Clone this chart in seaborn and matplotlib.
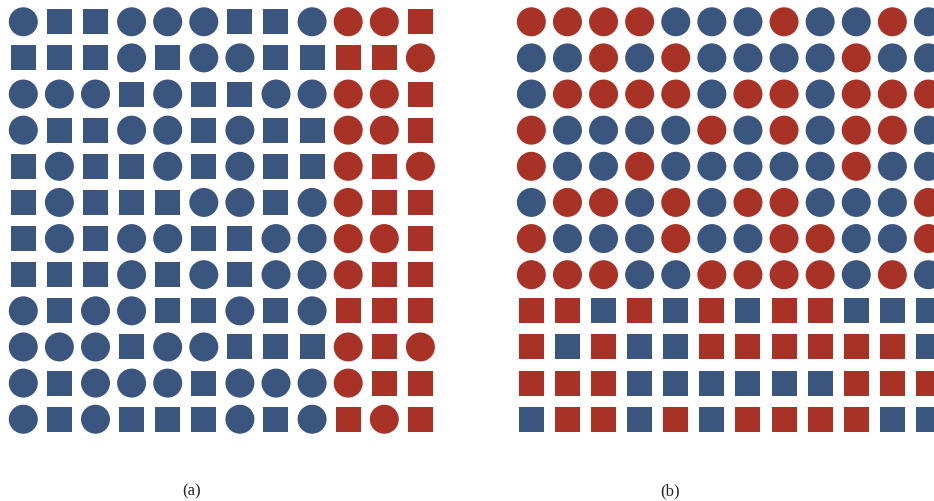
import numpy as np
import pandas as pd
import matplotlib
matplotlib.use("Agg")
import matplotlib.pyplot as plt
import seaborn as sns

sns.set_theme(style="white")
plt.rcParams["font.family"] = ["Liberation Serif", "DejaVu Serif"]

# Panel (a): shape of each cell (C = circle, S = square); columns 0-8 are group A, 9-11 group B
shapes_a = [
    "CSSCCCSSCCCS",
    "SSSCSCCSSSSC",
    "CCCSCSSCCCCS",
    "CSSCCSCSSCCS",
    "SCSSCSCSSCSC",
    "SCSSSCCSCCSS",
    "SCSCCSSCCCCS",
    "SSSCSCSCCCSS",
    "CSCCSSCSCSSS",
    "CCCSCCSSSCSC",
    "CSCCCSCCCCSS",
    "CSCSSSCSCSCS",
]
groups_a = ["B" * 9 + "R" * 3] * 12

# Panel (b): colour of each cell (R = red, B = blue); rows 0-7 circles, rows 8-11 squares
colors_b = [
    "RRRRBBBRBBRB",
    "BBRBRBBBBRBB",
    "BRRRRBRRBRRR",
    "RBBBBRBRBRRB",
    "RBBRBBBBBRBB",
    "BRRBRBRRBBBR",
    "RBBBRBBRRBBR",
    "RRRBBRRRRBRB",
    "RRBRBRBRRBBB",
    "RBRBBRRRRRRB",
    "RRRBBBBBBRRR",
    "BRRBRBRRRRBB",
]
shapes_b = ["C" * 12] * 8 + ["S" * 12] * 4

panel_labels = ["(a)", "(b)"]

palette = {"B": "#3a567e", "R": "#a93226"}
marker_size = {"C": 436, "S": 324}
marker_kind = {"C": "o", "S": "s"}


def grid_frame(shape_rows, color_rows):
    recs = []
    for r, (srow, crow) in enumerate(zip(shape_rows, color_rows)):
        for c, (s, col) in enumerate(zip(srow, crow)):
            recs.append({"col": c, "row": r, "shape": s, "color": col})
    return pd.DataFrame(recs)


W, H = 934, 501
fig = plt.figure(figsize=(W / 100, H / 100), dpi=100)

panels = [
    (grid_frame(shapes_a, groups_a), 5.25),
    (grid_frame(shapes_b, colors_b), 513.3),
]
axes_w, axes_h, axes_top = 433.2, 433.6, 3.7

for df, left_px in panels:
    ax = fig.add_axes([left_px / W, (H - axes_top - axes_h) / H, axes_w / W, axes_h / H])
    for shp in ["C", "S"]:
        sub = df[df["shape"] == shp]
        sns.scatterplot(
            data=sub, x="col", y="row", hue="color", palette=palette,
            marker=marker_kind[shp], s=marker_size[shp], linewidth=0,
            legend=False, ax=ax,
        )
    ax.set_xlim(-0.5, 11.5)
    ax.set_ylim(11.5, -0.5)
    ax.set_axis_off()

fig.text(192 / W, 1 - 491 / H, panel_labels[0], ha="center", va="center", fontsize=12)
fig.text(670 / W, 1 - 491 / H, panel_labels[1], ha="center", va="center", fontsize=12)

fig.savefig("out.png", dpi=100, facecolor="white")
